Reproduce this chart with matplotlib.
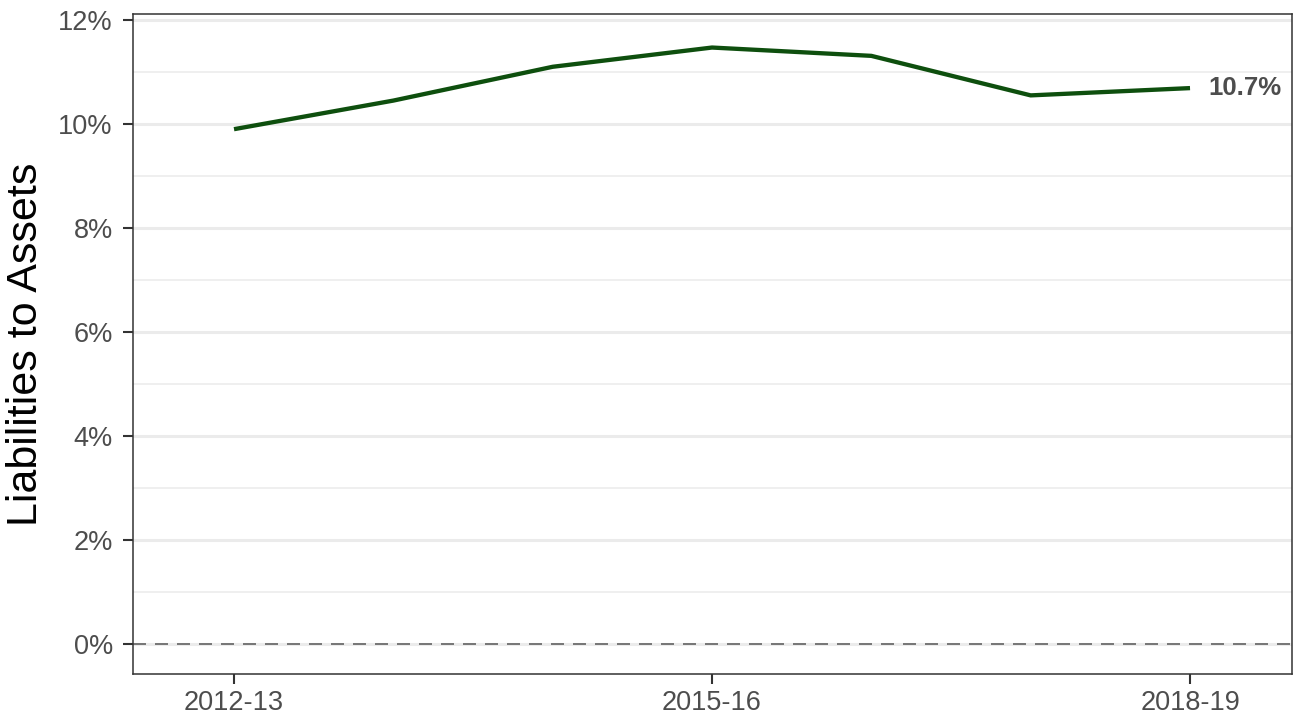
import matplotlib.pyplot as plt
from matplotlib.ticker import FixedLocator, PercentFormatter

plt.rcParams["font.family"] = ["Liberation Sans", "DejaVu Sans"]

# valores (passivos / ativos, em %)
anos = ["2012-13", "2013-14", "2014-15", "2015-16", "2016-17", "2017-18", "2018-19"]
razao = [9.90, 10.45, 11.10, 11.47, 11.31, 10.55, 10.69]
anos_rotulo = ["2012-13", "2015-16", "2018-19"]
y_ticks = [0, 2, 4, 6, 8, 10, 12]
y_minor = [1, 3, 5, 7, 9, 11]

cinza_borda = "#333333"
cinza_texto = "#4d4d4d"
cinza_grade = "#ebebeb"

fig = plt.figure(figsize=(12.95, 7.22), dpi=100)
ax = fig.add_axes([133 / 1295, 1 - 674 / 722, (1292 - 133) / 1295, (674 - 14) / 722])

x = list(range(len(anos)))
ax.plot(x, razao, color="#0e4f0e", lw=3.1, solid_capstyle="butt", zorder=3)
ax.axhline(0, color="#555555", lw=1.1, dashes=(8.5, 5.9), zorder=2)

ax.text(x[-1] + 0.115, razao[-1], f"{razao[-1]:.1f}%", fontsize=18.5,
        fontweight="bold", color=cinza_texto, ha="left", va="center")

ax.set_xlim(-0.634, len(anos) - 1 + 0.64)
ax.set_ylim(-0.577, 12.115)

ax.set_xticks([anos.index(a) for a in anos_rotulo])
ax.set_xticklabels(anos_rotulo)
ax.set_yticks(y_ticks)
ax.yaxis.set_major_formatter(PercentFormatter(decimals=0))
ax.yaxis.set_minor_locator(FixedLocator(y_minor))

ax.grid(axis="y", which="major", color=cinza_grade, lw=2.2, zorder=0)
ax.grid(axis="y", which="minor", color=cinza_grade, lw=1.1, zorder=0)
ax.set_axisbelow(True)

ax.tick_params(axis="both", which="major", length=7.5, width=1.5, color=cinza_borda,
               labelsize=19.5, labelcolor=cinza_texto)
ax.tick_params(axis="x", pad=4)
ax.tick_params(axis="y", pad=7)
ax.tick_params(axis="y", which="minor", length=0)

for s in ax.spines.values():
    s.set_color(cinza_borda)
    s.set_linewidth(1.1)

ax.set_ylabel("Liabilities to Assets", fontsize=31, color="black", labelpad=9)

fig.savefig("out.png", dpi=100)
